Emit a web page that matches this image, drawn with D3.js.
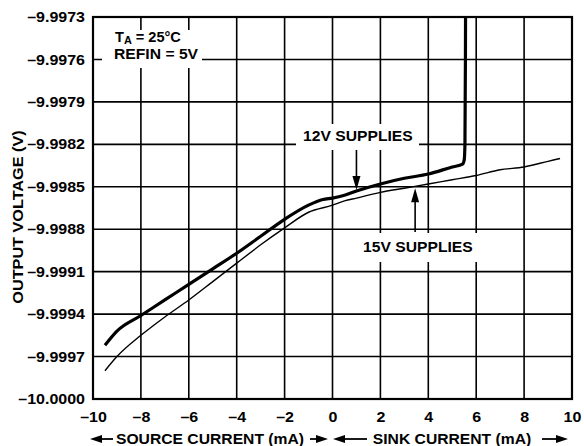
<!DOCTYPE html>
<html>
<head>
<meta charset="utf-8">
<script src="https://cdn.jsdelivr.net/npm/d3@7"></script>
<style>
  html, body { margin: 0; padding: 0; background: #fff; }
  svg { display: block; }
  text { font-family: "Liberation Sans", Arial, Helvetica, sans-serif; font-weight: bold; fill: #000; }
</style>
</head>
<body>
<svg id="chart" width="584" height="446"></svg>
<script>
// Output voltage vs. load current, two supply settings
const xTicks = [-10, -8, -6, -4, -2, 0, 2, 4, 6, 8, 10];
const yTicks = [-10.0000, -9.9997, -9.9994, -9.9991, -9.9988, -9.9985, -9.9982, -9.9979, -9.9976, -9.9973];

const current12 = [-9.5, -9, -8, -7, -6, -5, -4, -3, -2, -1, -0.4, 0, 0.5, 1, 2, 3, 4, 5, 5.43, 5.5, 5.53, 5.55, 5.56];
const volts12 = [-9.99962, -9.99952, -9.99941, -9.99930, -9.99919, -9.99908, -9.99897, -9.99885, -9.99873, -9.99863, -9.99859, -9.99858, -9.99856, -9.99853, -9.99848, -9.99844, -9.99841, -9.99836, -9.99834, -9.99831, -9.99820, -9.99760, -9.99700];

const current15 = [-9.5, -9, -8, -7, -6, -5, -4, -3, -2, -1, 0, 0.5, 1, 2, 3, 4, 5, 6, 7, 8, 9, 9.5];
const volts15 = [-9.99980, -9.99970, -9.99955, -9.99942, -9.99930, -9.99917, -9.99904, -9.99891, -9.99879, -9.99868, -9.99863, -9.99860, -9.99858, -9.99854, -9.99851, -9.99848, -9.99845, -9.99842, -9.99838, -9.99836, -9.99832, -9.99830];

const svg = d3.select("#chart");
const pLeft = 93, pRight = 572, pTop = 17, pBottom = 399;
const SX = 1.12; // glyphs in this chart are slightly wide

const x = d3.scaleLinear().domain([-10, 10]).range([pLeft, pRight]);
const y = d3.scaleLinear().domain([-10.0000, -9.9973]).range([pBottom, pTop]);

const fmtY = v => "–" + Math.abs(v).toFixed(4);
const fmtX = v => (v < 0 ? "–" : "") + Math.abs(v);

// grid
const grid = svg.append("g");
grid.selectAll("line.v").data(xTicks.slice(1, -1)).join("line")
  .attr("x1", d => x(d)).attr("x2", d => x(d))
  .attr("y1", pTop).attr("y2", pBottom)
  .attr("stroke", "#000").attr("stroke-width", 1.6);
grid.selectAll("line.h").data(yTicks.slice(1, -1)).join("line")
  .attr("x1", pLeft).attr("x2", pRight)
  .attr("y1", d => y(d)).attr("y2", d => y(d))
  .attr("stroke", "#000").attr("stroke-width", 1.6);

// label backgrounds knock out the grid
const knock = [[102, 30, 100, 38], [296, 124, 123, 26], [356, 233, 126, 29]];
svg.append("g").selectAll("rect").data(knock).join("rect")
  .attr("x", d => d[0]).attr("y", d => d[1]).attr("width", d => d[2]).attr("height", d => d[3])
  .attr("fill", "#fff");

// frame
svg.append("rect").attr("x", pLeft).attr("y", pTop)
  .attr("width", pRight - pLeft).attr("height", pBottom - pTop)
  .attr("fill", "none").attr("stroke", "#000").attr("stroke-width", 2.2);

// axes (labels only)
const xAxis = svg.append("g").attr("transform", `translate(0,${pBottom})`)
  .call(d3.axisBottom(x).tickValues(xTicks).tickFormat(fmtX).tickSize(0).tickPadding(13));
const yAxis = svg.append("g").attr("transform", `translate(${pLeft},0)`)
  .call(d3.axisLeft(y).tickValues(yTicks).tickFormat(fmtY).tickSize(0).tickPadding(8));
[xAxis, yAxis].forEach(a => {
  a.select(".domain").remove();
  a.selectAll("text")
    .attr("font-family", "Liberation Sans, Arial, sans-serif")
    .attr("font-weight", "bold").attr("font-size", 14.3).attr("fill", "#000");
});
xAxis.selectAll(".tick text").attr("transform", `scale(${SX},1)`);
yAxis.selectAll(".tick text").each(function () {
  const t = d3.select(this);
  const tx = +t.attr("x");
  t.attr("x", tx / SX).attr("transform", `scale(${SX},1)`);
});

// clip curves to the plot area
svg.append("clipPath").attr("id", "plot")
  .append("rect").attr("x", pLeft).attr("y", pTop).attr("width", pRight - pLeft).attr("height", pBottom - pTop);

const lineFn = d3.line().x(d => x(d[0])).y(d => y(d[1])).curve(d3.curveMonotoneX);

svg.append("path").datum(d3.zip(current15, volts15))
  .attr("clip-path", "url(#plot)")
  .attr("d", lineFn).attr("fill", "none").attr("stroke", "#000").attr("stroke-width", 1.4);
svg.append("path").datum(d3.zip(current12, volts12))
  .attr("clip-path", "url(#plot)")
  .attr("d", lineFn).attr("fill", "none").attr("stroke", "#000").attr("stroke-width", 3.2)
  .attr("stroke-linejoin", "round");

// text helper with widened glyphs
function label(str, px, py, anchor, size, rot) {
  const g = svg.append("g").attr("transform", `translate(${px},${py}) rotate(${rot || 0}) scale(${SX},1)`);
  const t = g.append("text").attr("text-anchor", anchor || "start").attr("font-size", size || 14);
  return t.text(str);
}

// conditions
const ta = svg.append("g").attr("transform", `translate(115,41.5) scale(1.04,1)`)
  .append("text").attr("font-size", 14);
ta.append("tspan").text("T");
ta.append("tspan").attr("font-size", 10.5).attr("dy", 2.5).text("A");
ta.append("tspan").attr("dy", -2.5).text(" = 25°C");
label("REFIN = 5V", 114, 59, "start", 14);

// series labels and pointers
label("12V SUPPLIES", 303, 141, "start", 14);
label("15V SUPPLIES", 363, 252, "start", 14);

function pointer(px, y0, y1) {
  const dir = Math.sign(y1 - y0);
  svg.append("line").attr("x1", px).attr("x2", px).attr("y1", y0).attr("y2", y1 - dir * 12)
    .attr("stroke", "#000").attr("stroke-width", 1.6);
  svg.append("path")
    .attr("d", `M${px},${y1} L${px - 4},${y1 - dir * 14} L${px + 4},${y1 - dir * 14} Z`)
    .attr("fill", "#000");
}
pointer(x(1), 150, y(-9.99853) - 1);
pointer(x(3.45), 232, y(-9.99850) + 1.5);

// axis titles
label("OUTPUT VOLTAGE (V)", 23, 217, "middle", 14.5, -90);
label("SOURCE CURRENT (mA)", 210, 444, "middle", 14);
label("SINK CURRENT (mA)", 452, 444, "middle", 14);

function hArrow(x0, x1, yy) {
  // x1 is the tip
  const dir = Math.sign(x1 - x0);
  svg.append("line").attr("x1", x0).attr("x2", x1 - dir * 8).attr("y1", yy).attr("y2", yy)
    .attr("stroke", "#000").attr("stroke-width", 1.8);
  svg.append("path")
    .attr("d", `M${x1},${yy} L${x1 - dir * 12},${yy - 4} L${x1 - dir * 12},${yy + 4} Z`)
    .attr("fill", "#000");
}
hArrow(113, 90, 439);
hArrow(310, 328, 439);
hArrow(367, 333, 439);
hArrow(542, 568, 439);
</script>
</body>
</html>
